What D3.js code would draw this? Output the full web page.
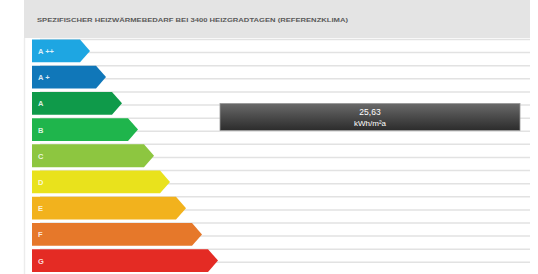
<!DOCTYPE html>
<html>
<head>
<meta charset="utf-8">
<script src="https://cdn.jsdelivr.net/npm/d3@7"></script>
<style>
  body { margin: 0; background: #fff; }
  svg { display: block; font-family: "Liberation Sans", Arial, sans-serif; }
</style>
</head>
<body>
<svg width="538" height="274"></svg>
<script>
const TITLE = "SPEZIFISCHER HEIZWÄRMEBEDARF BEI 3400 HEIZGRADTAGEN (REFERENZKLIMA)";
const classes = ["A++", "A+", "A", "B", "C", "D", "E", "F", "G"];
const labels = ["A ++", "A +", "A", "B", "C", "D", "E", "F", "G"];
const barColors = ["#1ea6e2", "#1077b9", "#0f9a4a", "#1fb54c", "#8dc640", "#e9e21c", "#f2b21d", "#e6782a", "#e42b24"];
const barSteps = [1, 2, 3, 4, 5, 6, 7, 8, 9];
const value = "25,63";
const unit = "kWh/m²a";
const valueClass = "B";

const svg = d3.select("svg");

const y = d3.scaleBand().domain(classes).range([39.5, 272]).paddingInner(0.13).paddingOuter(0);
const x = d3.scaleLinear().domain([1, 9]).range([90, 218]);
const X0 = 32;
const TIP = 10;

// header
svg.append("rect").attr("x", 24).attr("y", 0).attr("width", 506).attr("height", 38).attr("fill", "#e4e4e4");
svg.append("text").attr("x", 37).attr("y", 22)
  .attr("font-size", 6).attr("font-weight", "bold").attr("fill", "#5a5a5a")
  .attr("textLength", 311).attr("lengthAdjust", "spacingAndGlyphs")
  .text(TITLE);

// left border
svg.append("line").attr("x1", 24.5).attr("x2", 24.5).attr("y1", 38).attr("y2", 274)
  .attr("stroke", "#ececec").attr("stroke-width", 1.5);

// grid lines, two per row
const step = y.step();
const lineYs = [];
classes.forEach(c => { lineYs.push(y(c)); lineYs.push(y(c) + step / 2); });
lineYs.push(y("G") + step - 0.5);
svg.selectAll(".grid").data(lineYs).enter().append("line")
  .attr("class", "grid")
  .attr("x1", 40).attr("x2", 530)
  .attr("y1", d => d).attr("y2", d => d)
  .attr("stroke", "#e2e2e2").attr("stroke-width", 1.5);

// arrow bars
const bh = y.bandwidth();
svg.selectAll(".bar").data(classes).enter().append("path")
  .attr("class", "bar")
  .attr("d", (c, i) => {
    const x1 = x(barSteps[i]), t = y(c);
    return `M${X0},${t} L${x1 - TIP},${t} L${x1},${t + bh / 2} L${x1 - TIP},${t + bh} L${X0},${t + bh} Z`;
  })
  .attr("fill", (c, i) => barColors[i]);

svg.selectAll(".lbl").data(classes).enter().append("text")
  .attr("class", "lbl")
  .attr("x", 38).attr("y", c => y(c) + bh / 2 + 3)
  .attr("font-size", 7.5).attr("font-weight", "bold").attr("fill", "#fff")
  .attr("fill-opacity", 0.85)
  .text((c, i) => labels[i]);

// value box
const defs = svg.append("defs");
const grad = defs.append("linearGradient").attr("id", "vg").attr("x1", 0).attr("x2", 0).attr("y1", 0).attr("y2", 1);
grad.append("stop").attr("offset", "0%").attr("stop-color", "#6a6a6a");
grad.append("stop").attr("offset", "50%").attr("stop-color", "#4a4a4a");
grad.append("stop").attr("offset", "100%").attr("stop-color", "#2c2c2c");

const vi = classes.indexOf(valueClass);
const boxCy = y(classes[vi]) - (step - bh) / 2;
const boxH = 27;
svg.append("rect")
  .attr("x", 220).attr("y", boxCy - boxH / 2 + 0.5)
  .attr("width", 300).attr("height", boxH)
  .attr("fill", "url(#vg)").attr("stroke", "#999").attr("stroke-width", 0.8);
svg.append("text").attr("x", 370).attr("y", boxCy - 1.5)
  .attr("text-anchor", "middle").attr("font-size", 8.5).attr("fill", "#fff")
  .text(value);
svg.append("text").attr("x", 370).attr("y", boxCy + 9.5)
  .attr("text-anchor", "middle").attr("font-size", 8).attr("fill", "#fff")
  .text(unit);
</script>
</body>
</html>
